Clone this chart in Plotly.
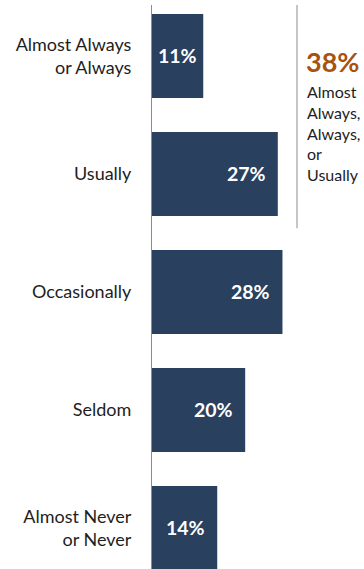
import plotly.graph_objects as go

# Survey response distribution
categories = [
    "Almost Always<br>or Always",
    "Usually",
    "Occasionally",
    "Seldom",
    "Almost Never<br>or Never",
]
values = [11, 27, 28, 20, 14]

summary_value = "38%"
summary_text = "Almost<br>Always,<br>Always,<br>or<br>Usually"

BAR_COLOR = "#29405F"
ACCENT = "#A8520F"
TEXT_COLOR = "#1E1E1E"
LINE_COLOR = "#8C8C8C"
FONT = "Lato"

W, H = 364, 569
ML, MR, MT, MB = 152, 0, 5, 0
X_MAX = 45.5

fig = go.Figure(
    go.Bar(
        x=values,
        y=list(range(len(categories))),
        orientation="h",
        marker=dict(color=BAR_COLOR, line=dict(width=0)),
        hoverinfo="skip",
    )
)

# value labels inside the bars: right-aligned near the bar end when there is room,
# centred in the bar otherwise
px_per_unit = (W - ML - MR) / X_MAX
for i, v in enumerate(values):
    if v * px_per_unit >= 62:
        fig.add_annotation(x=v, y=i, xref="x", yref="y", text=f"<b>{v}%</b>",
                           showarrow=False, xanchor="right", xshift=-10,
                           font=dict(family=FONT, size=19.5, color="white"))
    else:
        fig.add_annotation(x=v / 2, y=i, xref="x", yref="y", text=f"<b>{v}%</b>",
                           showarrow=False, xanchor="center",
                           font=dict(family=FONT, size=19.5, color="white"))

# bracket line beside the top two categories
fig.add_shape(type="line", xref="paper", yref="y",
              x0=0.684, x1=0.684, y0=-0.44, y1=1.46,
              line=dict(color=LINE_COLOR, width=1))

fig.add_annotation(xref="paper", yref="y", x=0.718, y=0.05, text=f"<b>{summary_value}</b>",
                   showarrow=False, xanchor="left", yanchor="middle",
                   font=dict(family=FONT, size=27, color=ACCENT))
fig.add_annotation(xref="paper", yref="y", x=0.722, y=0.655, text=summary_text,
                   showarrow=False, xanchor="left", yanchor="middle", align="left",
                   font=dict(family=FONT, size=16, color=TEXT_COLOR))

fig.update_layout(
    width=W, height=H,
    margin=dict(l=ML, r=MR, t=MT, b=MB),
    paper_bgcolor="white", plot_bgcolor="white",
    bargap=0.288,
    showlegend=False,
    xaxis=dict(range=[0, X_MAX], visible=False, fixedrange=True),
    yaxis=dict(
        range=[4.348, -0.432],
        tickmode="array",
        tickvals=list(range(len(categories))),
        ticktext=categories,
        showline=True, linecolor=LINE_COLOR, linewidth=1,
        showgrid=False, zeroline=False, ticks="",
        ticklabelstandoff=16,
        tickfont=dict(family=FONT, size=18, color=TEXT_COLOR),
        fixedrange=True,
    ),
)

fig.write_html("out.html")
